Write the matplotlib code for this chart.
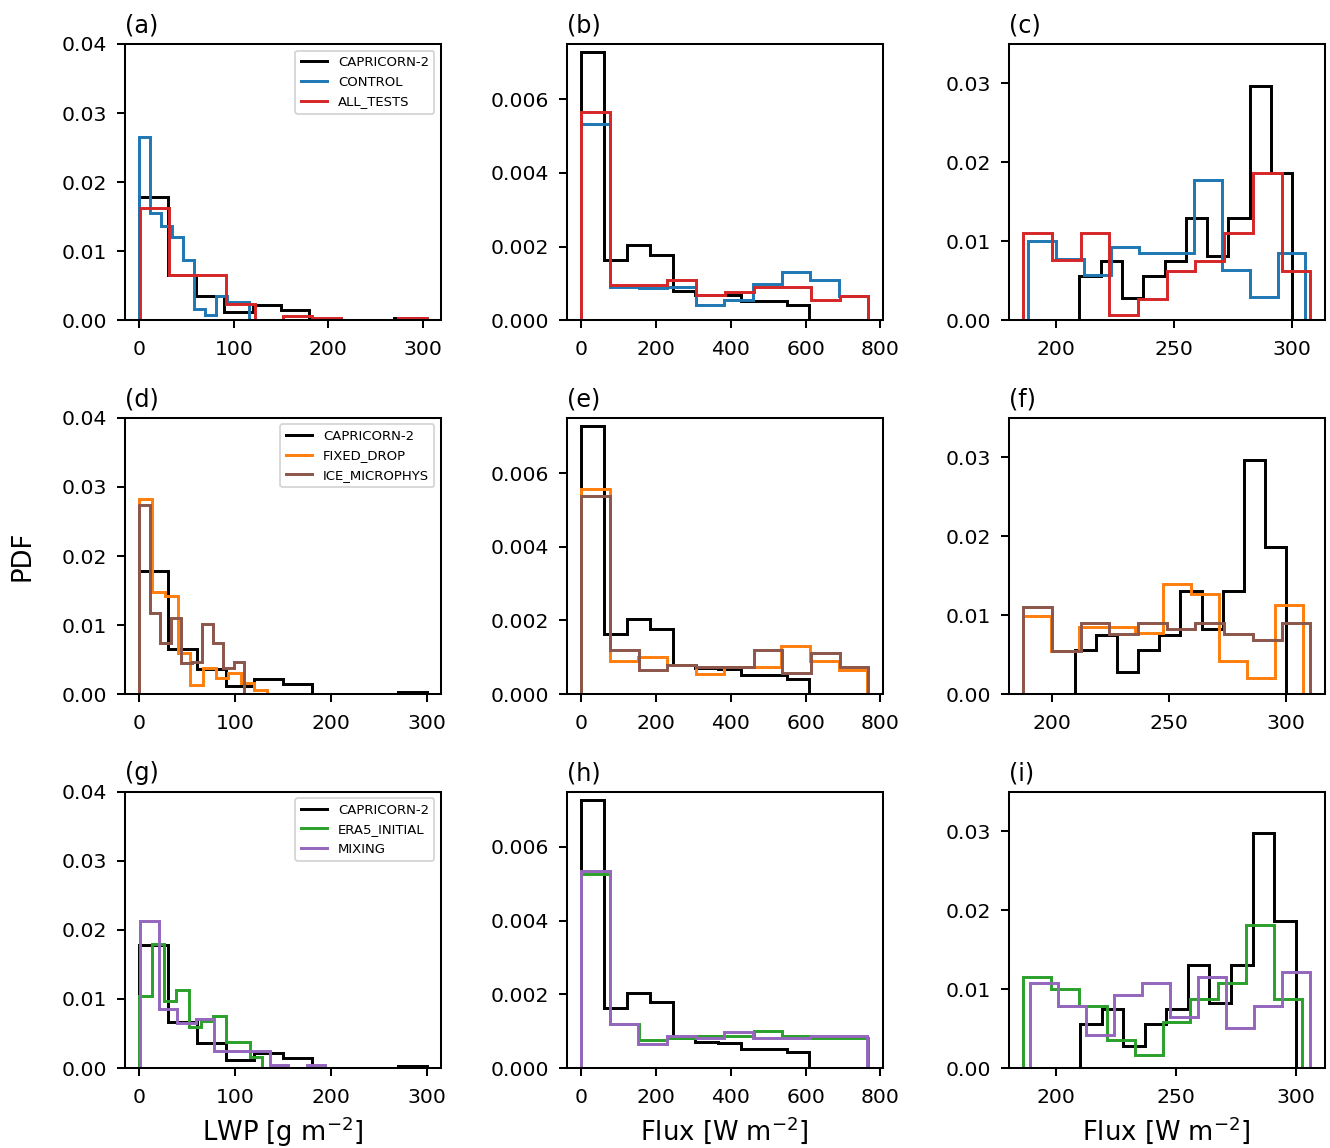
import numpy as np
import matplotlib
matplotlib.use("Agg")
from matplotlib import pyplot as plt

# bin densities (PDF), 10 bins per series
# LWP [g m-2]
LWP_CAPRICORN = [0.0178, 0.0066, 0.0036, 0.0012, 0.0022, 0.00145, 0, 0, 0, 0.0003]
LWP_CONTROL = [0.0266, 0.0155, 0.0136, 0.012, 0.0087, 0.0017, 0.0008, 0.0036, 0.0026, 0.0026]
LWP_ALL_TESTS = [0.0162, 0.0066, 0.0066, 0.0023, 0, 0.0007, 0.0003, 0, 0, 0.0003]
LWP_FIXED_DROP = [0.0282, 0.0148, 0.0142, 0.0059, 0.0014, 0.0038, 0.0023, 0.003, 0.0016, 0.0006]
LWP_ICE = [0.0274, 0.0118, 0.0074, 0.011, 0.0045, 0.0046, 0.0101, 0.0074, 0.0038, 0.0047]
LWP_ERA5 = [0.0104, 0.018, 0.0097, 0.0113, 0.006, 0.0068, 0.0075, 0.0038, 0.0038, 0.0016]
LWP_MIXING = [0.0213, 0.0086, 0.0065, 0.0071, 0.0024, 0.0024, 0.0024, 0.0005, 0, 0.0005]

# shortwave flux [W m-2]
SW_CAPRICORN = [0.00728, 0.00163, 0.00204, 0.00178, 0.0008, 0.0007, 0.00068, 0.00052, 0.00052, 0.00042]
SW_CONTROL = [0.00534, 0.0009, 0.00088, 0.0009, 0.00043, 0.00056, 0.00099, 0.00131, 0.00109, 0.00067]
SW_ALL_TESTS = [0.00565, 0.00097, 0.00097, 0.0011, 0.00068, 0.00076, 0.0009, 0.0009, 0.00056, 0.00067]
SW_FIXED_DROP = [0.00557, 0.0009, 0.001, 0.00078, 0.00054, 0.00075, 0.00075, 0.00132, 0.0009, 0.00066]
SW_ICE = [0.00537, 0.0012, 0.00066, 0.00078, 0.00075, 0.00075, 0.0012, 0.00057, 0.00111, 0.00075]
SW_ERA5 = [0.00525, 0.00118, 0.00077, 0.0008, 0.00086, 0.00086, 0.001, 0.00087, 0.0008, 0.0008]
SW_MIXING = [0.00535, 0.0012, 0.00066, 0.00086, 0.0008, 0.00098, 0.0008, 0.0008, 0.00087, 0.00087]

# longwave flux [W m-2]
LW_CAPRICORN = [0.00556, 0.0075, 0.0028, 0.0056, 0.0075, 0.013, 0.0082, 0.013, 0.0297, 0.0186]
LW_CONTROL = [0.01, 0.0078, 0.0057, 0.0093, 0.0085, 0.0085, 0.0178, 0.0064, 0.003, 0.0085]
LW_ALL_TESTS = [0.011, 0.0077, 0.011, 0.0007, 0.0027, 0.0062, 0.0075, 0.011, 0.0186, 0.0062]
LW_FIXED_DROP = [0.00996, 0.0055, 0.0085, 0.0085, 0.0077, 0.014, 0.0127, 0.0042, 0.002, 0.0113]
LW_ICE = [0.011, 0.0055, 0.009, 0.0076, 0.009, 0.0083, 0.009, 0.0076, 0.0068, 0.009]
LW_ERA5 = [0.0115, 0.01, 0.0079, 0.0036, 0.0016, 0.0058, 0.0087, 0.0107, 0.0181, 0.0087]
LW_MIXING = [0.0107, 0.0078, 0.0042, 0.0092, 0.0108, 0.0065, 0.0115, 0.0051, 0.0078, 0.0122]

# (min, max) of the binned data for each series
LWP_RANGE = {'CAPRICORN-2': (0, 300), 'CONTROL': (0, 116), 'ALL_TESTS': (1, 304),
             'FIXED_DROP': (0, 133), 'ICE_MICROPHYS': (0, 109.5),
             'ERA5_INITIAL': (0, 128.6), 'MIXING': (1, 194)}
SW_RANGE = {'CAPRICORN-2': (0, 610), 'CONTROL': (0, 766), 'ALL_TESTS': (0, 768),
            'FIXED_DROP': (0, 765), 'ICE_MICROPHYS': (0, 768),
            'ERA5_INITIAL': (0, 768), 'MIXING': (0, 765)}
LW_RANGE = {'CAPRICORN-2': (210, 300), 'CONTROL': (188.3, 305.6), 'ALL_TESTS': (186.2, 307.7),
            'FIXED_DROP': (187.9, 307.1), 'ICE_MICROPHYS': (187.9, 310.4),
            'ERA5_INITIAL': (186.2, 302.6), 'MIXING': (189.2, 306.1)}

COLORS = {'CAPRICORN-2': 'k', 'CONTROL': 'tab:blue', 'ALL_TESTS': 'tab:red',
          'FIXED_DROP': 'tab:orange', 'ICE_MICROPHYS': 'tab:brown',
          'ERA5_INITIAL': 'tab:green', 'MIXING': 'tab:purple'}

rows = [
    {'CAPRICORN-2': (LWP_CAPRICORN, SW_CAPRICORN, LW_CAPRICORN),
     'CONTROL': (LWP_CONTROL, SW_CONTROL, LW_CONTROL),
     'ALL_TESTS': (LWP_ALL_TESTS, SW_ALL_TESTS, LW_ALL_TESTS)},
    {'CAPRICORN-2': (LWP_CAPRICORN, SW_CAPRICORN, LW_CAPRICORN),
     'FIXED_DROP': (LWP_FIXED_DROP, SW_FIXED_DROP, LW_FIXED_DROP),
     'ICE_MICROPHYS': (LWP_ICE, SW_ICE, LW_ICE)},
    {'CAPRICORN-2': (LWP_CAPRICORN, SW_CAPRICORN, LW_CAPRICORN),
     'ERA5_INITIAL': (LWP_ERA5, SW_ERA5, LW_ERA5),
     'MIXING': (LWP_MIXING, SW_MIXING, LW_MIXING)},
]
ranges = [LWP_RANGE, SW_RANGE, LW_RANGE]
ylims = [0.04, 0.0075, 0.035]
yticks = [[0, 0.01, 0.02, 0.03, 0.04], [0, 0.002, 0.004, 0.006], [0, 0.01, 0.02, 0.03]]
xticks = [[0, 100, 200, 300], [0, 200, 400, 600, 800], [200, 250, 300]]
xlabels = ['LWP [g m$^{-2}$]', 'Flux [W m$^{-2}$]', 'Flux [W m$^{-2}$]']
letters = 'abcdefghi'

plt.rcParams['axes.linewidth'] = 1.1

fig, axes = plt.subplots(3, 3, figsize=(10, 8.632), dpi=133)
fig.subplots_adjust(left=0.094, right=0.996, top=0.9617, bottom=0.0697,
                    wspace=0.399, hspace=0.352)

for i, series in enumerate(rows):
    for j in range(3):
        ax = axes[i, j]
        for name, vals in series.items():
            lo, hi = ranges[j][name]
            edges = np.linspace(lo, hi, len(vals[j]) + 1)
            ax.stairs(vals[j], edges, baseline=0, color=COLORS[name], lw=1.6, label=name)
        ax.set_ylim(0, ylims[j])
        ax.set_yticks(yticks[j])
        ax.set_xticks(xticks[j])
        ax.tick_params(labelsize=11, length=4.3, width=1.1)
        ax.tick_params(axis='y', pad=5.5)
        ax.tick_params(axis='x', pad=6.5)
        ax.set_title('(%s)' % letters[3 * i + j], loc='left', fontsize=13)
        if j == 0:
            ax.legend(loc='upper right', fontsize=7.2)
        if i == 2:
            ax.set_xlabel(xlabels[j], fontsize=14)

fig.text(0.017, 0.5157, 'PDF', rotation=90, fontsize=14, ha='center', va='center')

fig.savefig('out.png', dpi=133)
